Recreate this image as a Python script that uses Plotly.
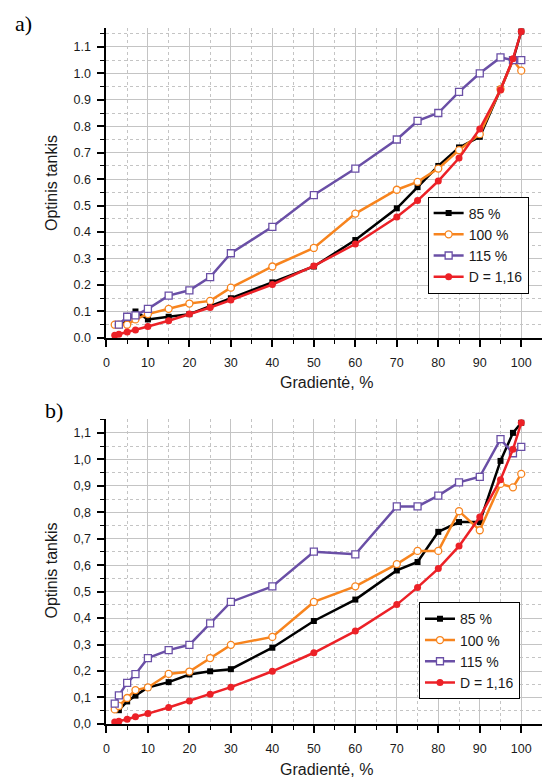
import plotly.graph_objects as go

# ---------------- data ----------------
x_a_black = [3, 5, 7, 10, 15, 20, 25, 30, 40, 50, 60, 70, 75, 80, 85, 90, 95, 98, 100]
y_a_black = [0.05, 0.06, 0.10, 0.07, 0.08, 0.09, 0.12, 0.15, 0.21, 0.27, 0.37, 0.49, 0.57, 0.65, 0.72, 0.76, 0.94, 1.05, 1.158]

x_a_orange = [2, 3, 5, 7, 10, 15, 20, 25, 30, 40, 50, 60, 70, 75, 80, 85, 90, 95, 98, 100]
y_a_orange = [0.05, 0.05, 0.05, 0.07, 0.09, 0.11, 0.13, 0.14, 0.19, 0.27, 0.34, 0.47, 0.56, 0.59, 0.64, 0.71, 0.77, 0.94, 1.05, 1.01]

x_a_purple = [3, 5, 7, 10, 15, 20, 25, 30, 40, 50, 60, 70, 75, 80, 85, 90, 95, 98, 100]
y_a_purple = [0.05, 0.08, 0.085, 0.11, 0.16, 0.18, 0.23, 0.32, 0.42, 0.54, 0.64, 0.75, 0.82, 0.85, 0.93, 1.00, 1.06, 1.05, 1.05]

x_a_red = [2, 3, 5, 7, 10, 15, 20, 25, 30, 40, 50, 60, 70, 75, 80, 85, 90, 95, 98, 100]
y_a_red = [0.01, 0.014, 0.022, 0.03, 0.043, 0.065, 0.09, 0.115, 0.143, 0.202, 0.272, 0.355, 0.457, 0.519, 0.593, 0.68, 0.79, 0.937, 1.055, 1.158]

x_b_black = [3, 5, 7, 10, 15, 20, 25, 30, 40, 50, 60, 70, 75, 80, 85, 90, 95, 98, 100]
y_b_black = [0.052, 0.085, 0.107, 0.138, 0.158, 0.187, 0.199, 0.207, 0.288, 0.389, 0.47, 0.58, 0.612, 0.726, 0.763, 0.763, 0.994, 1.10, 1.138]

x_b_orange = [2, 3, 5, 7, 10, 15, 20, 25, 30, 40, 50, 60, 70, 75, 80, 85, 90, 95, 98, 100]
y_b_orange = [0.055, 0.068, 0.098, 0.128, 0.138, 0.189, 0.198, 0.249, 0.299, 0.329, 0.461, 0.52, 0.604, 0.654, 0.654, 0.804, 0.732, 0.907, 0.894, 0.945]

x_b_purple = [2, 3, 5, 7, 10, 15, 20, 25, 30, 40, 50, 60, 70, 75, 80, 85, 90, 95, 98, 100]
y_b_purple = [0.077, 0.108, 0.155, 0.188, 0.249, 0.279, 0.299, 0.38, 0.461, 0.52, 0.651, 0.641, 0.822, 0.822, 0.863, 0.913, 0.934, 1.076, 1.023, 1.047]

x_b_red = [2, 3, 5, 7, 10, 15, 20, 25, 30, 40, 50, 60, 70, 75, 80, 85, 90, 95, 98, 100]
y_b_red = [0.007, 0.01, 0.018, 0.027, 0.039, 0.062, 0.087, 0.112, 0.139, 0.199, 0.269, 0.351, 0.451, 0.516, 0.587, 0.672, 0.782, 0.923, 1.038, 1.138]

series_names = ["85 %", "100 %", "115 %", "D = 1,16"]

x_tickvals = [0, 10, 20, 30, 40, 50, 60, 70, 80, 90, 100]
y_tickvals = [0.0, 0.1, 0.2, 0.3, 0.4, 0.5, 0.6, 0.7, 0.8, 0.9, 1.0, 1.1]
y_ticktext_a = ["0.0", "0.1", "0.2", "0.3", "0.4", "0.5", "0.6", "0.7", "0.8", "0.9", "1.0", "1.1"]
y_ticktext_b = ["0,0", "0,1", "0,2", "0,3", "0,4", "0,5", "0,6", "0,7", "0,8", "0,9", "1,0", "1,1"]

x_title = "Gradientė, %"
y_title = "Optinis tankis"

# ---------------- styles ----------------
FONT = "Liberation Sans, Arial, sans-serif"
BLACK = "#000000"
ORANGE = "#F7841E"
PURPLE = "#6A4FA6"
RED = "#EC2127"

styles = [
    dict(line=dict(color=BLACK, width=2.5), marker=dict(symbol="square", size=6, color=BLACK)),
    dict(line=dict(color=ORANGE, width=2.5), marker=dict(symbol="circle", size=7, color="white",
                                                          line=dict(color=ORANGE, width=1.3))),
    dict(line=dict(color=PURPLE, width=2.5), marker=dict(symbol="square", size=7, color="white",
                                                          line=dict(color=PURPLE, width=1.3))),
    dict(line=dict(color=RED, width=2.5), marker=dict(symbol="circle", size=7, color=RED)),
]

fig = go.Figure()

top = [(x_a_black, y_a_black), (x_a_orange, y_a_orange), (x_a_purple, y_a_purple), (x_a_red, y_a_red)]
bot = [(x_b_black, y_b_black), (x_b_orange, y_b_orange), (x_b_purple, y_b_purple), (x_b_red, y_b_red)]

for (xs, ys), name, st in zip(top, series_names, styles):
    fig.add_trace(go.Scatter(x=xs, y=ys, name=name, mode="lines+markers", xaxis="x", yaxis="y",
                             legend="legend", cliponaxis=False, **st))
for (xs, ys), name, st in zip(bot, series_names, styles):
    fig.add_trace(go.Scatter(x=xs, y=ys, name=name, mode="lines+markers", xaxis="x2", yaxis="y2",
                             legend="legend2", cliponaxis=False, **st))

W, H = 542, 780
x_dom = [104 / W, 1.0]

common = dict(
    showline=True, linecolor="black", linewidth=2,
    ticks="outside", ticklen=7, tickwidth=1.5, tickcolor="black",
    showgrid=True, gridcolor="#c4c4c4", gridwidth=1,
    zeroline=False,
    tickfont=dict(family=FONT, size=12.5, color="#1a1a1a"),
)

xcommon = dict(common, range=[0, 105], tickmode="array", tickvals=x_tickvals, ticklabelstandoff=5,
               minor=dict(tickmode="linear", tick0=0, dtick=5, ticks="outside", ticklen=4,
                          tickcolor="black", tickwidth=1.2, showgrid=True,
                          gridcolor="#c4c4c4", griddash="dot", gridwidth=1))
ycommon = dict(common, tickmode="array", tickvals=y_tickvals, ticklabelstandoff=4,
               minor=dict(tickmode="linear", tick0=0, dtick=0.05, ticks="outside", ticklen=4,
                          tickcolor="black", tickwidth=1.2, showgrid=True,
                          gridcolor="#c4c4c4", griddash="dot", gridwidth=1))

legend_common = dict(xanchor="left", yanchor="top", bgcolor="white", bordercolor="black",
                     borderwidth=1, font=dict(family=FONT, size=14, color="#1a1a1a"),
                     tracegroupgap=0)

fig.update_layout(
    width=W, height=H,
    margin=dict(l=0, r=0, t=0, b=0),
    paper_bgcolor="white", plot_bgcolor="white",
    font=dict(family=FONT, color="#1a1a1a"),
    xaxis=dict(xcommon, domain=x_dom, anchor="y"),
    yaxis=dict(ycommon, domain=[(H - 341) / H, (H - 28.6) / H], range=[0, 1.17],
               ticktext=y_ticktext_a, anchor="x"),
    xaxis2=dict(xcommon, domain=x_dom, anchor="y2"),
    yaxis2=dict(ycommon, domain=[(H - 730.5) / H, (H - 422.9) / H], range=[0, 1.152],
                ticktext=y_ticktext_b, anchor="x2"),
    legend=dict(legend_common, x=427 / W, y=(H - 198.3) / H, entrywidth=64),
    legend2=dict(legend_common, x=418.3 / W, y=(H - 607.7) / H, entrywidth=73),
    showlegend=True,
)

ann = []
ann.append(dict(text="a)", x=20.8 / W, y=(H - 23.3) / H, xref="paper", yref="paper",
                showarrow=False, xanchor="center", yanchor="middle",
                font=dict(family="Liberation Serif, Times New Roman, serif", size=22, color="black")))
ann.append(dict(text="b)", x=51 / W, y=(H - 414) / H, xref="paper", yref="paper",
                showarrow=False, xanchor="center", yanchor="middle",
                font=dict(family="Liberation Serif, Times New Roman, serif", size=22, color="black")))
for yc in (185, 576):
    ann.append(dict(text=y_title, x=49 / W, y=(H - yc) / H, xref="paper", yref="paper",
                    showarrow=False, textangle=-90, xanchor="center", yanchor="middle",
                    font=dict(family=FONT, size=16, color="#1a1a1a")))
for yc in (386, 776):
    ann.append(dict(text=x_title, x=325 / W, y=(H - yc) / H, xref="paper", yref="paper",
                    showarrow=False, xanchor="center", yanchor="middle",
                    font=dict(family=FONT, size=16, color="#1a1a1a")))
fig.update_layout(annotations=ann)

fig.write_html("out.html")
